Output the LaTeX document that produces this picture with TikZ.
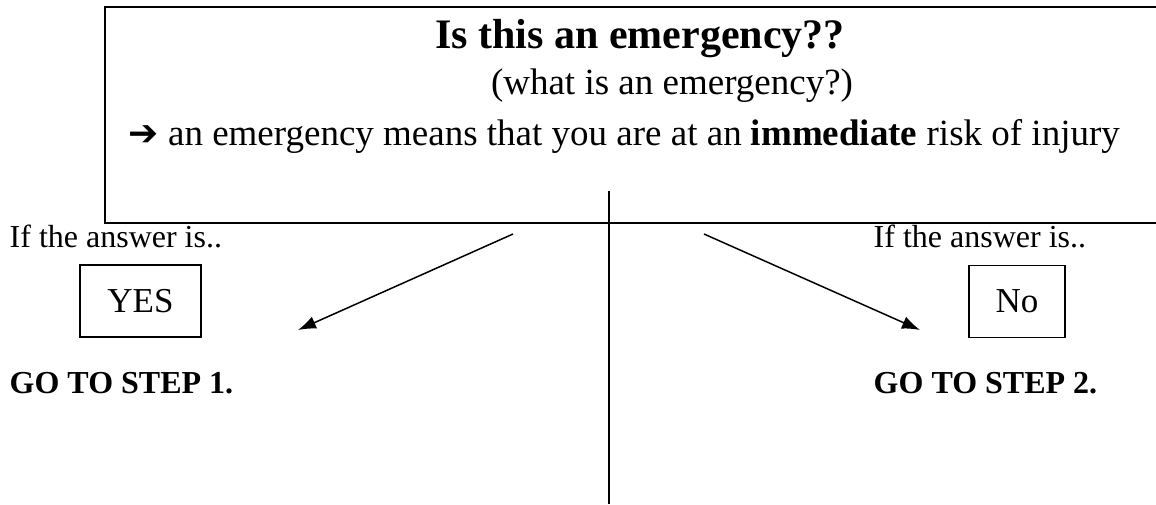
\documentclass[tikz,border=0pt]{standalone}
\usepackage{fontspec}
\setmainfont{Liberation Serif}
\newfontfamily\arrowfont{DejaVu Sans}
\usetikzlibrary{arrows.meta}

\begin{document}
\begin{tikzpicture}[x=1pt, y=-1pt, line width=1.4pt,
    body/.style={inner sep=0pt, anchor=base west, font=\fontsize{32}{38}\selectfont},
    boxtext/.style={inner sep=0pt, anchor=base, font=\fontsize{37}{44}\selectfont},
    answer/.style={draw, line width=1.4pt, inner sep=0pt, minimum height=72pt,
      font=\fontsize{35}{42}\selectfont},
    pointer/.style={line width=1.5pt, -{Latex[length=18pt, width=13pt]}}]
    \useasboundingbox (0,0) rectangle (1156,504);
    \clip (0,0) rectangle (1156,504);
    % ---- question box (runs off the right edge)
    \draw (105,7) rectangle (1180,223);
    \node[boxtext, font=\fontsize{42}{50}\selectfont\bfseries] (title) at (640,48)
      {Is this an emergency??};
    \node[boxtext] (sub) at (672,94) {(what is an emergency?)};
    \node[boxtext, anchor=base west] (means) at (128,145)
      {{\arrowfont\fontsize{36}{42}\selectfont\symbol{"2794}} an emergency means that you are at an \textbf{immediate} risk of injury};
    % ---- divider
    \coordinate (top) at (609,191);
    \coordinate (bot) at (609,504);
    \draw[line width=1.7pt] (top) -- (bot);
    % ---- yes side
    \node[body] (ifyes) at (9,247) {If the answer is..};
    \node[answer, minimum width=121pt] (yes) at (140.5,301) {YES};
    \node[body, font=\fontsize{32}{38}\selectfont\bfseries] (step1) at (9,393) {GO TO STEP 1.};
    % ---- no side
    \node[body] (ifno) at (873,247) {If the answer is..};
    \node[answer, minimum width=96pt] (no) at (1017,301.5) {No};
    \node[body, font=\fontsize{32}{38}\selectfont\bfseries] (step2) at (873,393) {GO TO STEP 2.};
    % ---- arrows
    \coordinate (ls) at (513,234);
    \coordinate (le) at (298,330);
    \coordinate (rs) at (704,234);
    \coordinate (re) at (920,330);
    \draw[pointer] (ls) -- (le);
    \draw[pointer] (rs) -- (re);
\end{tikzpicture}
\end{document}
